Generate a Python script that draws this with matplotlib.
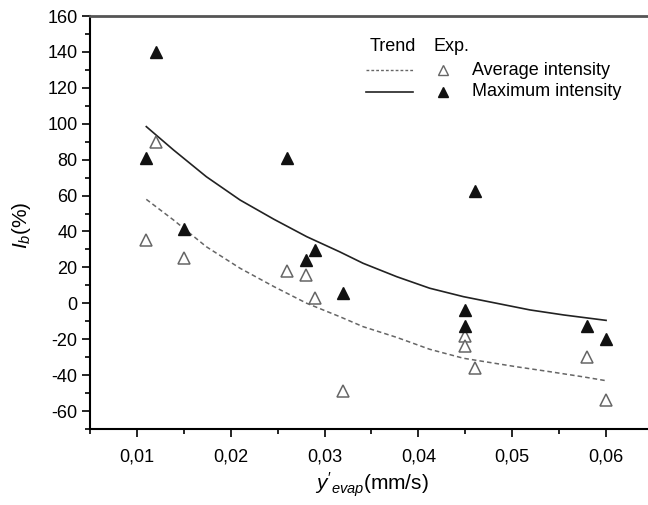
import matplotlib
matplotlib.use("Agg")
import matplotlib.pyplot as plt
from matplotlib.ticker import MultipleLocator, FuncFormatter

plt.rcParams['font.family'] = ['Liberation Sans', 'DejaVu Sans']
plt.rcParams['mathtext.fontset'] = 'custom'
plt.rcParams['mathtext.rm'] = 'Liberation Sans'
plt.rcParams['mathtext.it'] = 'Liberation Sans:italic'
plt.rcParams['axes.unicode_minus'] = False

# experimental points
x_exp = [0.011, 0.012, 0.015, 0.026, 0.028, 0.029, 0.032, 0.045, 0.045, 0.046, 0.058, 0.060]
avg_exp = [35, 90, 25.5, 18, 16, 3, -49, -18, -24, -36, -30, -54]
max_exp = [81, 140, 41.5, 81, 24, 29.5, 6, -3.5, -12.5, 62.5, -12.5, -20]

# trend lines
x_trend_max = [0.011, 0.0139, 0.0174, 0.021, 0.0246, 0.0281, 0.0316, 0.0341, 0.0377,
               0.0412, 0.0448, 0.0519, 0.0555, 0.060]
trend_max = [98.4, 85.4, 70.5, 57.5, 46.8, 37.1, 28.7, 22.3, 14.8, 8.4, 3.7, -3.7, -6.5, -9.5]
x_trend_avg = [0.011, 0.0139, 0.0174, 0.021, 0.0246, 0.0281, 0.0316, 0.0341, 0.0377,
               0.0412, 0.0448, 0.0504, 0.0539, 0.0575, 0.060]
trend_avg = [57.9, 46.4, 31.5, 19.5, 9.3, 0, -7.4, -13, -19, -25.6, -30.6, -35.3, -38, -40.9, -43.1]

fig = plt.figure(figsize=(6.48, 5.05), dpi=100)
ax = fig.add_axes([0.1389, 0.1505, 0.8688, 0.8178])

ax.plot(x_trend_avg, trend_avg, color='#666666', lw=1.1, ls=(0, (3, 2)))
ax.plot(x_trend_max, trend_max, color='#222222', lw=1.2)
ax.plot(x_exp, avg_exp, ls='none', marker='^', ms=8, mfc='white', mec='#666666', mew=1.1)
ax.plot(x_exp, max_exp, ls='none', marker='^', ms=8, mfc='#111111', mec='#111111')

ax.set_xlim(0.005, 0.065)
ax.set_ylim(-70, 160)
ax.xaxis.set_major_locator(MultipleLocator(0.01))
ax.xaxis.set_minor_locator(MultipleLocator(0.005))
ax.yaxis.set_major_locator(MultipleLocator(20))
ax.yaxis.set_minor_locator(MultipleLocator(10))
ax.xaxis.set_major_formatter(FuncFormatter(lambda v, p: f'{v:.2f}'.replace('.', ',') if v > 0.0055 else ''))
ax.tick_params(which='both', direction='out', labelsize=13, width=1.2)
ax.tick_params(which='major', length=6)
ax.tick_params(which='minor', length=3.5)
ax.tick_params(axis='x', pad=8)
ax.tick_params(axis='y', pad=3)

ax.spines['right'].set_visible(False)
ax.spines['top'].set_color('#555555')
ax.spines['top'].set_linewidth(2)
ax.spines['left'].set_linewidth(1.5)
ax.spines['bottom'].set_linewidth(1.5)

ax.set_xlabel(r"$y'_{evap}$(mm/s)", fontsize=15, labelpad=4)
fig.text(0.033, 0.555, r"$I_b$(%)", rotation=90, fontsize=15, ha='center', va='center')

# legend drawn by hand
ax.text(0.497, 0.925, 'Trend', transform=ax.transAxes, fontsize=13, va='center')
ax.text(0.611, 0.925, 'Exp.', transform=ax.transAxes, fontsize=13, va='center')
ax.plot([0.490, 0.574], [0.869, 0.869], transform=ax.transAxes, color='#666666', lw=1.0, ls=(0, (2, 1.5)))
ax.plot([0.490, 0.574], [0.816, 0.816], transform=ax.transAxes, color='#222222', lw=1.2)
ax.plot([0.627], [0.869], transform=ax.transAxes, marker='^', ms=7, mfc='white', mec='#666666', mew=1.0)
ax.plot([0.627], [0.816], transform=ax.transAxes, marker='^', ms=7, mfc='#111111', mec='#111111')
ax.text(0.678, 0.869, 'Average intensity', transform=ax.transAxes, fontsize=13, va='center')
ax.text(0.678, 0.816, 'Maximum intensity', transform=ax.transAxes, fontsize=13, va='center')

fig.savefig('out.png', dpi=100)
